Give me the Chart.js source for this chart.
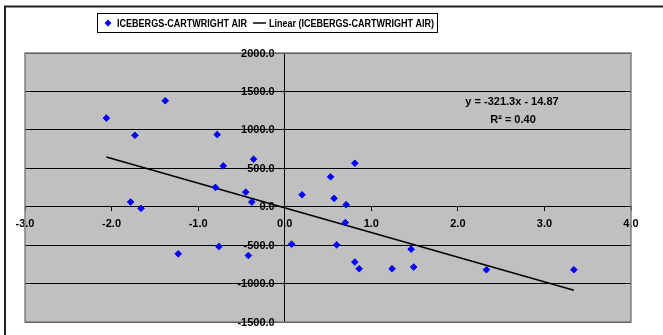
<html>
<head>
<title>Icebergs - Cartwright Air</title>
<style>
  body { margin: 0; background: #fff; }
  canvas { display: block; }
</style>
</head>
<body>
<canvas id="chart" width="663" height="335"></canvas>
<script src="https://cdn.jsdelivr.net/npm/chart.js@4/dist/chart.umd.min.js"></script>
<script>
  const seriesName = 'ICEBERGS-CARTWRIGHT AIR';
  // scatter points
  const xValues = [-2.06, -1.73, -1.38, -0.78, -0.71, -0.36, -0.80, -0.45, 0.53, 0.81,
                   -1.78, -1.66, -0.38, 0.20, -1.23, -0.76, -0.42, 0.08, 0.57, 0.71,
                   0.70, 0.60, 0.81, 0.86, 1.24, 1.46, 1.49, 2.33, 3.34];
  const yValues = [1153, 929, 1378, 938, 531, 618, 251, 190, 389, 566,
                   61, -21, 61, 155, -613, -518, -635, -487, 109, 26,
                   -207, -496, -720, -807, -807, -552, -785, -820, -820];
  // trendline as printed on the chart
  const trendSlope = -321.3;
  const trendIntercept = -14.87;
  const rSquared = 0.40;
  const xTicks = [-3, -2, -1, 0, 1, 2, 3, 4];
  const yTicks = [-1500, -1000, -500, 0, 500, 1000, 1500, 2000];

  const FONT = '"Liberation Sans", Arial, sans-serif';
  const points = xValues.map((x, i) => ({ x: x, y: yValues[i] }));
  const xMin = Math.min(...xValues), xMax = Math.max(...xValues);
  const trend = [xMin, xMax].map(x => ({ x: x, y: trendSlope * x + trendIntercept }));

  const framePlugin = {
    id: 'frame',
    beforeDraw(chart) {
      const ctx = chart.ctx, a = chart.chartArea;
      ctx.save();
      ctx.fillStyle = '#fff';
      ctx.fillRect(0, 0, chart.width, chart.height);
      // outer chart border (only top and left visible)
      ctx.strokeStyle = '#222';
      ctx.lineWidth = 2;
      ctx.strokeRect(5, 6.5, chart.width + 10, chart.height + 10);
      ctx.fillStyle = '#c0c0c0';
      ctx.fillRect(a.left, a.top, a.right - a.left, a.bottom - a.top);
      ctx.restore();
    },
    afterDraw(chart) {
      const ctx = chart.ctx, a = chart.chartArea;
      const xs = chart.scales.x, ys = chart.scales.y;
      ctx.save();
      ctx.strokeStyle = '#808080';
      ctx.lineWidth = 1.5;
      ctx.strokeRect(a.left, a.top, a.right - a.left, a.bottom - a.top);

      ctx.fillStyle = '#000';
      ctx.font = 'bold 11px ' + FONT;
      ctx.textBaseline = 'middle';

      // y tick labels, left of the crossing y axis
      ctx.textAlign = 'right';
      const axisX = xs.getPixelForValue(0);
      ys.ticks.forEach(t => {
        ctx.fillText(t.value.toFixed(1), axisX - 10, ys.getPixelForValue(t.value) + 0.5);
      });

      // legend
      ctx.fillStyle = '#fff';
      ctx.fillRect(97.5, 13.5, 340, 19);
      ctx.strokeStyle = '#000';
      ctx.lineWidth = 1;
      ctx.strokeRect(97.5, 13.5, 340, 19);
      ctx.fillStyle = '#0000ff';
      ctx.beginPath();
      ctx.moveTo(108, 19.5); ctx.lineTo(111.5, 23); ctx.lineTo(108, 26.5); ctx.lineTo(104.5, 23);
      ctx.closePath();
      ctx.fill();
      ctx.fillStyle = '#000';
      ctx.textAlign = 'left';
      ctx.fillText(seriesName, 117, 23.5, 130);
      ctx.lineWidth = 1.5;
      ctx.beginPath();
      ctx.moveTo(253, 23); ctx.lineTo(266, 23);
      ctx.stroke();
      ctx.fillText('Linear (' + seriesName + ')', 269, 23.5, 165);

      // trendline equation
      ctx.textAlign = 'center';
      ctx.fillText('y = ' + trendSlope + 'x - ' + Math.abs(trendIntercept), 512, 102);
      ctx.fillText('R\u00B2 = ' + rSquared.toFixed(2), 513, 120);
      ctx.restore();
    }
  };

  new Chart(document.getElementById('chart'), {
    type: 'scatter',
    data: {
      datasets: [
        {
          label: seriesName,
          data: points,
          pointStyle: 'rectRot',
          pointRadius: 3.3,
          pointHoverRadius: 3.3,
          backgroundColor: '#0000ff',
          borderColor: '#0000ff',
          borderWidth: 1
        },
        {
          label: 'Linear (' + seriesName + ')',
          data: trend,
          showLine: true,
          pointRadius: 0,
          borderColor: '#000',
          borderWidth: 1.5
        }
      ]
    },
    options: {
      responsive: false,
      animation: false,
      devicePixelRatio: 1,
      layout: { padding: { left: 25, right: 32, top: 53, bottom: 13 } },
      plugins: { legend: { display: false }, tooltip: { enabled: false } },
      scales: {
        x: {
          type: 'linear',
          position: { y: 0 },
          min: -3, max: 4,
          afterBuildTicks: s => { s.ticks = xTicks.map(v => ({ value: v })); },
          ticks: {
            autoSkip: false, maxRotation: 0, padding: 7, color: '#000',
            font: { family: FONT, size: 11, weight: 'bold' },
            callback: v => v.toFixed(1)
          },
          grid: { drawOnChartArea: false, tickLength: 4, color: '#000' },
          border: { color: '#000', width: 1 }
        },
        y: {
          type: 'linear',
          position: { x: 0 },
          min: -1500, max: 2000,
          afterBuildTicks: s => { s.ticks = yTicks.map(v => ({ value: v })); },
          ticks: { display: false },
          grid: { color: '#000', tickLength: 4 },
          border: { color: '#000', width: 1 }
        }
      }
    },
    plugins: [framePlugin]
  });
</script>
</body>
</html>
